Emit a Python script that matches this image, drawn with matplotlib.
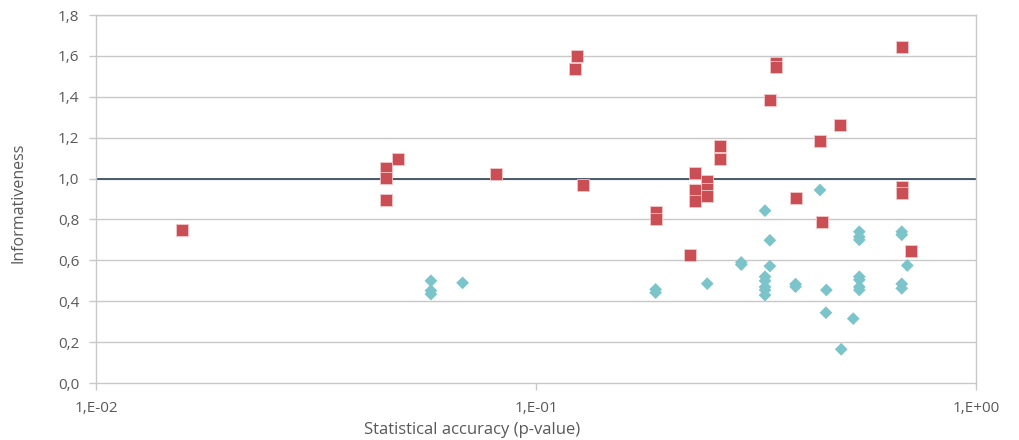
import matplotlib.pyplot as plt
from matplotlib.ticker import FixedLocator, FixedFormatter, NullLocator

# red squares
red_x = [0.0157, 0.0456, 0.0456, 0.0456, 0.0486, 0.0811, 0.124, 0.1227, 0.1277,
         0.187, 0.187, 0.2239, 0.2304, 0.2304, 0.2304, 0.245, 0.245, 0.245,
         0.2626, 0.2626, 0.340, 0.351, 0.351, 0.389, 0.4419, 0.4466, 0.492,
         0.678, 0.678, 0.678, 0.7105]
red_y = [0.75, 1.05, 1.005, 0.895, 1.095, 1.02, 1.60, 1.535, 0.97,
         0.835, 0.80, 0.625, 1.025, 0.945, 0.89, 0.99, 0.95, 0.915,
         1.16, 1.095, 1.385, 1.565, 1.545, 0.905, 1.185, 0.79, 1.26,
         1.645, 0.96, 0.93, 0.645]

# teal diamonds
teal_x = [0.0577, 0.0577, 0.0577, 0.0681, 0.187, 0.187, 0.245, 0.2928, 0.2928,
          0.3315, 0.340, 0.340, 0.3315, 0.3315, 0.3315, 0.3315, 0.3315,
          0.389, 0.389, 0.442, 0.457, 0.456, 0.526, 0.494,
          0.543, 0.543, 0.543, 0.543, 0.543, 0.543, 0.543,
          0.678, 0.678, 0.678, 0.678, 0.698]
teal_y = [0.50, 0.452, 0.435, 0.49, 0.458, 0.442, 0.486, 0.59, 0.579,
          0.843, 0.698, 0.572, 0.52, 0.50, 0.47, 0.455, 0.43,
          0.484, 0.471, 0.944, 0.455, 0.344, 0.315, 0.165,
          0.74, 0.715, 0.70, 0.52, 0.505, 0.47, 0.455,
          0.74, 0.725, 0.485, 0.463, 0.575]

x_ticks = [0.01, 0.1, 1.0]
x_labels = ['1,E-02', '1,E-01', '1,E+00']
y_ticks = [0.0, 0.2, 0.4, 0.6, 0.8, 1.0, 1.2, 1.4, 1.6, 1.8]
y_labels = ['0,0', '0,2', '0,4', '0,6', '0,8', '1,0', '1,2', '1,4', '1,6', '1,8']

plt.rcParams['font.family'] = ['Open Sans', 'DejaVu Sans']
text_col = '#595959'
grid_col = '#C8C8C8'

fig = plt.figure(figsize=(10.19, 4.4), dpi=100)
ax = fig.add_axes([0.0942, 0.1295, 0.8636, 0.8364])

ax.set_xscale('log')
ax.set_xlim(0.01, 1.0)
ax.set_ylim(0, 1.8)

for y in y_ticks[1:]:
    ax.axhline(y, color=grid_col, lw=1, zorder=0)
ax.axhline(1.0, color='#3D4F63', lw=1.3, zorder=1)

ax.scatter(teal_x, teal_y, marker='D', s=42, color='#7AC4CA',
           edgecolors='none', zorder=3)
ax.scatter(red_x, red_y, marker='s', s=72, color='#CC4E55',
           edgecolors='#F2C8CA', linewidths=0.6, zorder=4)

ax.xaxis.set_major_locator(FixedLocator(x_ticks))
ax.xaxis.set_major_formatter(FixedFormatter(x_labels))
ax.xaxis.set_minor_locator(NullLocator())
ax.set_yticks(y_ticks)
ax.set_yticklabels(y_labels)

for s in ax.spines.values():
    s.set_color(grid_col)
    s.set_linewidth(1)

ax.tick_params(axis='both', colors=grid_col, labelcolor=text_col,
               labelsize=11, length=5, width=1)
ax.tick_params(axis='x', pad=8)
ax.tick_params(axis='y', pad=7)

ax.set_xlabel('Statistical accuracy (p-value)', color=text_col, fontsize=12)
ax.set_ylabel('Informativeness', color=text_col, fontsize=11.5)
ax.xaxis.set_label_coords(0.427, -0.105)
ax.yaxis.set_label_coords(-0.079, 0.49)

fig.savefig('out.png', dpi=100)
